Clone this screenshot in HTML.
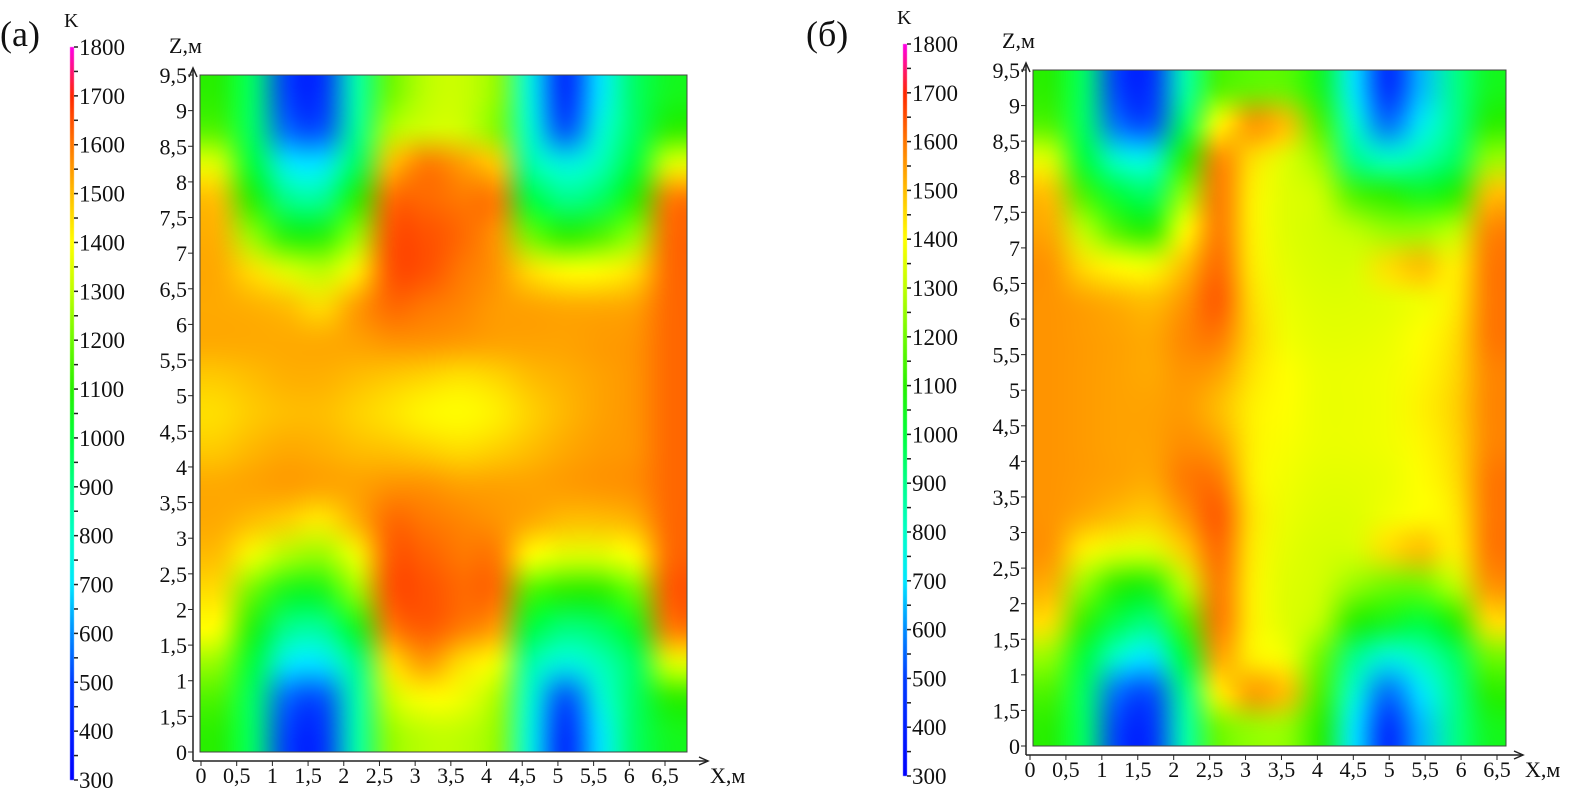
<!DOCTYPE html>
<html><head><meta charset="utf-8">
<style>
html,body{margin:0;padding:0;background:#fff;width:1583px;height:809px;overflow:hidden}
#wrap{position:relative;width:1583px;height:809px}
canvas{position:absolute;left:0;top:0}
svg{position:absolute;left:0;top:0}
text{font-family:"Liberation Serif",serif;fill:#111}
</style></head>
<body>
<div id="wrap">
<canvas id="cv" width="1583" height="809"></canvas>
<svg id="sv" width="1583" height="809"></svg>
</div>
<script>
const xTickLabels=["0","0,5","1","1,5","2","2,5","3","3,5","4","4,5","5","5,5","6","6,5"];
const zTickLabels=["0","1,5","1","1,5","2","2,5","3","3,5","4","4,5","5","5,5","6","6,5","7","7,5","8","8,5","9","9,5"];
const cbTicks=[300,400,500,600,700,800,900,1000,1100,1200,1300,1400,1500,1600,1700,1800];
// rows listed top (z=9.25) to bottom (z=0.25), 14 columns spanning the plot width
const gridA=[
[1100,950,500,450,850,1200,1300,1320,1250,750,420,700,950,1050],
[1150,950,550,520,880,1280,1330,1330,1230,780,520,760,950,1100],
[1350,1000,720,700,950,1500,1600,1550,1480,850,750,820,1000,1350],
[1500,1100,900,880,1100,1620,1620,1600,1600,1000,900,950,1100,1600],
[1520,1250,1080,1080,1250,1650,1650,1620,1560,1200,1100,1150,1250,1620],
[1530,1450,1350,1300,1420,1650,1650,1600,1560,1450,1400,1400,1450,1620],
[1530,1520,1500,1450,1550,1620,1600,1580,1550,1540,1530,1530,1540,1620],
[1530,1530,1530,1530,1540,1560,1560,1550,1540,1540,1540,1550,1560,1620],
[1480,1500,1520,1520,1500,1480,1460,1440,1460,1500,1520,1540,1560,1620],
[1450,1480,1500,1500,1470,1440,1410,1400,1420,1470,1510,1540,1560,1620],
[1480,1510,1530,1520,1500,1490,1470,1450,1470,1500,1530,1550,1560,1620],
[1530,1540,1550,1540,1540,1560,1560,1540,1540,1540,1550,1560,1570,1620],
[1530,1500,1470,1430,1520,1620,1600,1580,1560,1530,1500,1500,1520,1620],
[1500,1380,1280,1250,1380,1640,1630,1600,1600,1400,1350,1350,1400,1620],
[1450,1200,1050,1050,1250,1650,1650,1620,1620,1150,1100,1100,1200,1640],
[1400,1080,900,880,1050,1600,1640,1600,1550,1000,920,950,1050,1600],
[1250,1000,720,700,900,1450,1550,1450,1380,850,750,820,950,1350],
[1150,950,550,520,850,1320,1400,1380,1280,780,520,760,950,1100],
[1100,950,500,450,850,1250,1300,1300,1250,750,420,700,950,1050]];
const gridB=[
[1100,950,500,450,850,1150,1180,1180,1050,700,430,650,900,1050],
[1150,950,560,520,950,1400,1560,1500,1150,780,560,720,900,1100],
[1350,1000,780,760,1100,1580,1450,1350,1250,900,800,850,950,1250],
[1500,1150,1000,950,1250,1600,1420,1350,1320,1150,1100,1050,1100,1500],
[1530,1300,1150,1100,1400,1600,1420,1350,1330,1300,1250,1250,1300,1580],
[1560,1450,1400,1380,1500,1620,1430,1360,1340,1340,1450,1500,1420,1600],
[1560,1540,1520,1500,1560,1640,1450,1370,1350,1350,1360,1380,1430,1600],
[1560,1550,1540,1530,1580,1600,1460,1380,1360,1360,1370,1400,1450,1600],
[1560,1550,1540,1530,1560,1540,1440,1400,1370,1370,1380,1410,1460,1580],
[1560,1550,1540,1540,1550,1500,1420,1400,1370,1370,1380,1420,1470,1580],
[1560,1550,1540,1540,1570,1540,1420,1390,1370,1370,1380,1410,1460,1580],
[1560,1550,1540,1530,1600,1600,1420,1380,1360,1360,1370,1400,1450,1600],
[1560,1530,1500,1480,1560,1640,1440,1370,1350,1350,1380,1400,1430,1600],
[1560,1420,1360,1350,1480,1620,1430,1360,1340,1340,1450,1500,1420,1600],
[1520,1250,1100,1080,1300,1600,1420,1350,1330,1250,1200,1200,1300,1560],
[1450,1120,980,920,1150,1600,1420,1350,1300,1100,1050,1000,1100,1450],
[1250,1000,780,700,1000,1540,1420,1380,1200,900,760,820,950,1200],
[1150,950,560,520,900,1420,1550,1500,1150,780,560,700,900,1100],
[1100,950,500,450,850,1200,1250,1250,1100,700,430,650,900,1050]];

const stops=[[300,0,0,255],[500,0,60,255],[600,0,140,255],[700,0,230,255],[800,0,255,200],[900,0,255,140],[1000,0,255,60],[1100,40,240,0],[1200,110,250,0],[1300,190,255,0],[1400,255,255,0],[1500,255,190,0],[1600,255,120,0],[1700,255,40,0],[1800,255,0,230]];
function cmap(v){
  if(v<=stops[0][0])return stops[0].slice(1);
  for(let i=1;i<stops.length;i++){if(v<=stops[i][0]){const a=stops[i-1],b=stops[i],t=(v-a[0])/(b[0]-a[0]);return [0,1,2].map(k=>Math.round(a[k+1]+(b[k+1]-a[k+1])*t));}}
  return stops[stops.length-1].slice(1);
}
const cv=document.getElementById('cv'),ctx=cv.getContext('2d');
const sv=document.getElementById('sv');const NS='http://www.w3.org/2000/svg';
function el(tag,attrs,txt){const e=document.createElementNS(NS,tag);for(const k in attrs)e.setAttribute(k,attrs[k]);if(txt!==undefined)e.textContent=txt;sv.appendChild(e);return e;}

function panel(P){
  const g=P.grid,rows=g.length,cols=g[0].length;
  const small=document.createElement('canvas');small.width=cols;small.height=rows;
  const sc=small.getContext('2d');const im=sc.createImageData(cols,rows);
  for(let r=0;r<rows;r++)for(let c=0;c<cols;c++){const col=cmap(g[r][c]);const i=(r*cols+c)*4;im.data[i]=col[0];im.data[i+1]=col[1];im.data[i+2]=col[2];im.data[i+3]=255;}
  sc.putImageData(im,0,0);
  ctx.imageSmoothingEnabled=true;ctx.imageSmoothingQuality='high';
  const cw=(P.x1-P.x0)/cols,ch=(P.y1-P.y0)/rows;
  ctx.save();ctx.beginPath();ctx.rect(P.x0,P.y0,P.x1-P.x0,P.y1-P.y0);ctx.clip();
  const big=document.createElement('canvas');big.width=cols+2;big.height=rows+2;const bc=big.getContext('2d');
  bc.drawImage(small,1,1);bc.drawImage(small,0,0,1,rows,0,1,1,rows);bc.drawImage(small,cols-1,0,1,rows,cols+1,1,1,rows);
  bc.drawImage(big,0,1,cols+2,1,0,0,cols+2,1);bc.drawImage(big,0,rows,cols+2,1,0,rows+1,cols+2,1);
  ctx.drawImage(big,0,0,cols+2,rows+2,P.x0-cw,P.y0-ch,cw*(cols+2),ch*(rows+2));
  ctx.restore();
  const hm=el('rect',{x:P.x0,y:P.y0,width:P.x1-P.x0,height:P.y1-P.y0,fill:'none',stroke:'#444','stroke-width':1});
  
  
  const cbH=P.cbBot-P.cbTop;
  for(let y=0;y<cbH;y++){const v=1800-(y/cbH)*1500;const c=cmap(v);ctx.fillStyle=`rgb(${c[0]},${c[1]},${c[2]})`;ctx.fillRect(P.cbX,P.cbTop+y,4,1);}
  for(let v=300;v<=1800;v+=50){const y=P.cbBot-(v-300)/1500*cbH;el('line',{x1:P.cbX+4,x2:P.cbX+8,y1:y,y2:y,stroke:'#222','stroke-width':1.5});}
  cbTicks.forEach(v=>{const y=P.cbBot-(v-300)/1500*cbH;const t=el('text',{x:P.cbX+9,y:y+8,'font-size':23},String(v));
    
    });
  const k=el('text',{x:P.cbX-6,y:P.cbTop-20,'font-size':20},'K');
  
  
  const pl=el('text',{x:P.lblX,y:46,'font-size':36},P.label);
  
  
  const ax=P.x0-7,ay=P.y1+9;
  el('line',{x1:ax,y1:ay,x2:ax,y2:P.y0-6,stroke:'#222','stroke-width':1.5});
  el('path',{d:`M${ax-4},${P.y0+2} L${ax},${P.y0-7} L${ax+4},${P.y0+2}`,fill:'none',stroke:'#222','stroke-width':1.5});
  el('line',{x1:ax,y1:ay,x2:P.axEnd,y2:ay,stroke:'#222','stroke-width':1.5});
  el('path',{d:`M${P.axEnd-9},${ay-4} L${P.axEnd},${ay} L${P.axEnd-9},${ay+4}`,fill:'none',stroke:'#222','stroke-width':1.5});
  const pxm=(P.x65-P.xz)/6.5;
  xTickLabels.forEach((s,i)=>{const x=P.xz+i*0.5*pxm;el('line',{x1:x,x2:x,y1:ay,y2:ay+5,stroke:'#222'});
    const t=el('text',{x:x,y:ay+22,'font-size':22,'text-anchor':'middle'},s);
    
    });
  const zs=(P.y1-P.y0)/19;
  zTickLabels.forEach((s,i)=>{const y=P.y1-i*zs;el('line',{x1:ax-5,x2:ax,y1:y,y2:y,stroke:'#222'});
    const t=el('text',{x:ax-6,y:y+8,'font-size':22,'text-anchor':'end'},s);
    
    });
  const xt=el('text',{x:P.axEnd+2,y:ay+22,'font-size':22},'X,м');
  
  
  const zt=el('text',{x:ax-24,y:P.y0-22,'font-size':22},'Z,м');
  
  
}
panel({id:'panel-a',grid:gridA,x0:200,x1:687,y0:75,y1:752,xz:201,x65:665,cbX:70,cbTop:47,cbBot:780,lblX:0,label:'(а)',axEnd:708});
panel({id:'panel-b',grid:gridB,x0:1033,x1:1506,y0:70,y1:746,xz:1030,x65:1497,cbX:903,cbTop:44,cbBot:776,lblX:806,label:'(б)',axEnd:1523});
</script>
</body></html>
